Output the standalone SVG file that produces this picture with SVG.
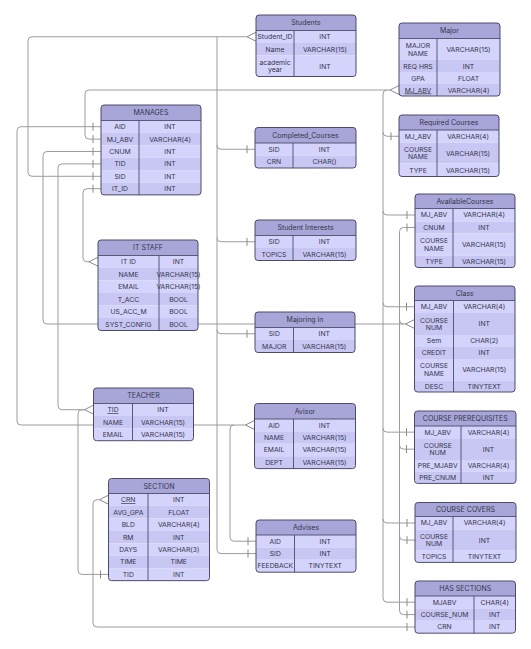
<svg xmlns="http://www.w3.org/2000/svg" xmlns:xlink="http://www.w3.org/1999/xlink" width="531" height="649" viewBox="0 0 531 649">
<style>
text{font-family:Inter,"Liberation Sans",sans-serif;font-size:6.8px;fill:#34344a;text-anchor:middle}
.th{font-size:7px}
.u{text-decoration:underline}
.hd{fill:#a8a6d8}
.r1{fill:#d4d3fc}
.r2{fill:#c8c7f3}
.bd{fill:none;stroke:#4c4b69;stroke-width:1}
.dv{fill:none;stroke:#4c4b69;stroke-width:0.9}
.ln{fill:none;stroke:#9c9c9c;stroke-width:1}
</style>
<defs>
<path id="cf" d="M-9 0L0 -4.5M-9 0L0 4.5" fill="none" stroke="#8a8a8a" stroke-width="1"/>
<path id="tk" d="M-8 -4V4" fill="none" stroke="#8a8a8a" stroke-width="1"/>
<clipPath id="k1"><rect x="256" y="15" width="100" height="61.5" rx="3"/></clipPath>
<clipPath id="k2"><rect x="399" y="23" width="101" height="73" rx="3"/></clipPath>
<clipPath id="k3"><rect x="101" y="105" width="100" height="89.9" rx="3"/></clipPath>
<clipPath id="k4"><rect x="255" y="127.5" width="101" height="40.5" rx="3"/></clipPath>
<clipPath id="k5"><rect x="255" y="220" width="101" height="40.5" rx="3"/></clipPath>
<clipPath id="k6"><rect x="399" y="115" width="100" height="61.5" rx="3"/></clipPath>
<clipPath id="k7"><rect x="415" y="194" width="100" height="73.5" rx="3"/></clipPath>
<clipPath id="k8"><rect x="98" y="240" width="100" height="90.5" rx="3"/></clipPath>
<clipPath id="k9"><rect x="414.5" y="286" width="100.5" height="106" rx="3"/></clipPath>
<clipPath id="k10"><rect x="255" y="312" width="100" height="40.5" rx="3"/></clipPath>
<clipPath id="k11"><rect x="93.5" y="388" width="100" height="52.7" rx="3"/></clipPath>
<clipPath id="k12"><rect x="254.5" y="403.5" width="101" height="65.1" rx="3"/></clipPath>
<clipPath id="k13"><rect x="256" y="520" width="100" height="52.2" rx="3"/></clipPath>
<clipPath id="k14"><rect x="414.5" y="411" width="101.5" height="72.4" rx="3"/></clipPath>
<clipPath id="k15"><rect x="415" y="502.5" width="101" height="59.9" rx="3"/></clipPath>
<clipPath id="k16"><rect x="108.5" y="478.5" width="101" height="102.15" rx="3"/></clipPath>
<clipPath id="k17"><rect x="415" y="581" width="100.5" height="52.2" rx="3"/></clipPath>
</defs>
<rect x="0" y="0" width="531" height="649" fill="#ffffff"/>

<g id="connectors">
<path class="ln" d="M247 36.75H32Q28 36.75 28 40.75V172.3Q28 176.3 32 176.3H101"/>
<path class="ln" d="M217 36.75V549.6Q217 553.6 221 553.6H256"/>
<path class="ln" d="M217 145.25Q217 149.25 221 149.25H255"/>
<path class="ln" d="M217 237.75Q217 241.75 221 241.75H255"/>
<path class="ln" d="M217 329.75Q217 333.75 221 333.75H255"/>
<path class="ln" d="M390 90H89Q85 90 85 94V135.1Q85 139.1 89 139.1H101"/>
<path class="ln" d="M387 90Q383 90 383 94V598.2Q383 602.2 387 602.2H415"/>
<path class="ln" d="M383 132.25Q383 136.25 387 136.25H399"/>
<path class="ln" d="M383 211Q383 215 387 215H415"/>
<path class="ln" d="M383 302.75Q383 306.75 387 306.75H414.5"/>
<path class="ln" d="M383 428.15Q383 432.15 387 432.15H414.5"/>
<path class="ln" d="M383 519Q383 523 387 523H415"/>
<path class="ln" d="M101 151.5H47Q43 151.5 43 155.5V320Q43 324 47 324H405.5"/>
<path class="ln" d="M101 163.9H62Q58 163.9 58 167.9V405.7Q58 409.7 62 409.7H84.5"/>
<path class="ln" d="M84.5 409.7H82Q78 409.7 78 413.7V570.4Q78 574.4 82 574.4H108.5"/>
<path class="ln" d="M101 126.7H21Q17 126.7 17 130.7V421Q17 425 21 425H245.5"/>
<path class="ln" d="M234 425Q230 425 230 429V537.2Q230 541.2 234 541.2H256"/>
<path class="ln" d="M101 188.7H87Q83 188.7 83 192.7V257.75Q83 261.75 87 261.75H89"/>
<path class="ln" d="M415 227.5H403.5Q399.5 227.5 399.5 231.5V610.6Q399.5 614.6 403.5 614.6H415"/>
<path class="ln" d="M399.5 320Q399.5 324 403.5 324"/>
<path class="ln" d="M399.5 445.15Q399.5 449.15 403.5 449.15H414.5"/>
<path class="ln" d="M399.5 536.1Q399.5 540.1 403.5 540.1H415"/>
<path class="ln" d="M99.5 499.7H97Q93 499.7 93 503.7V623Q93 627 97 627H415"/>
<use href="#cf" x="256" y="36.75"/>
<use href="#cf" x="399" y="90"/>
<use href="#cf" x="98" y="261.75"/>
<use href="#cf" x="414.5" y="324"/>
<use href="#cf" x="93.5" y="409.7"/>
<use href="#cf" x="254.5" y="425"/>
<use href="#cf" x="108.5" y="499.7"/>
<use href="#tk" x="101" y="126.7"/>
<use href="#tk" x="101" y="139.1"/>
<use href="#tk" x="101" y="151.5"/>
<use href="#tk" x="101" y="163.9"/>
<use href="#tk" x="101" y="176.3"/>
<use href="#tk" x="101" y="188.7"/>
<use href="#tk" x="255" y="149.25"/>
<use href="#tk" x="255" y="241.75"/>
<use href="#tk" x="255" y="333.75"/>
<use href="#tk" x="256" y="541.2"/>
<use href="#tk" x="256" y="553.6"/>
<use href="#tk" x="399" y="136.25"/>
<use href="#tk" x="415" y="215"/>
<use href="#tk" x="415" y="227.5"/>
<use href="#tk" x="414.5" y="306.75"/>
<use href="#tk" x="414.5" y="432.15"/>
<use href="#tk" x="414.5" y="449.15"/>
<use href="#tk" x="415" y="523"/>
<use href="#tk" x="415" y="540.1"/>
<use href="#tk" x="415" y="602.2"/>
<use href="#tk" x="415" y="614.6"/>
<use href="#tk" x="415" y="627"/>
<use href="#tk" x="108.5" y="574.4"/>
</g>

<g id="students">
<g clip-path="url(#k1)">
<rect class="hd" x="256" y="15" width="100" height="15.5"/>
<rect class="r1" x="256" y="30.5" width="100" height="12.5"/>
<rect class="r2" x="256" y="43" width="100" height="12.5"/>
<rect class="r1" x="256" y="55.5" width="100" height="21"/>
</g>
<path class="dv" d="M256 30.5H356M294 30.5V76.5"/>
<rect class="bd" x="256" y="15" width="100" height="61.5" rx="3"/>
<text class="th" x="306" y="25.3">Students</text>
<text x="275" y="39.2">Student_ID</text><text x="325" y="39.2">INT</text>
<text x="275" y="51.7">Name</text><text x="325" y="51.7">VARCHAR(15)</text>
<text x="275" y="64.5">academic</text><text x="275" y="72.3">year</text><text x="325" y="68.5">INT</text>
</g>

<g id="major">
<g clip-path="url(#k2)">
<rect class="hd" x="399" y="23" width="101" height="15.5"/>
<rect class="r1" x="399" y="38.5" width="101" height="21.5"/>
<rect class="r2" x="399" y="60" width="101" height="12"/>
<rect class="r1" x="399" y="72" width="101" height="12"/>
<rect class="r2" x="399" y="84" width="101" height="12"/>
</g>
<path class="dv" d="M399 38.5H500M437 38.5V96"/>
<rect class="bd" x="399" y="23" width="101" height="73" rx="3"/>
<text class="th" x="449.5" y="33.3">Major</text>
<text x="418" y="48">MAJOR</text><text x="418" y="55.8">NAME</text><text x="468.5" y="51.7">VARCHAR(15)</text>
<text x="418" y="68.5">REQ HRS</text><text x="468.5" y="68.5">INT</text>
<text x="418" y="80.5">GPA</text><text x="468.5" y="80.5">FLOAT</text>
<text class="u" x="418" y="92.5">MJ_ABV</text><text x="468.5" y="92.5">VARCHAR(4)</text>
</g>

<g id="manages">
<g clip-path="url(#k3)">
<rect class="hd" x="101" y="105" width="100" height="15.5"/>
<rect class="r1" x="101" y="120.5" width="100" height="12.4"/>
<rect class="r2" x="101" y="132.9" width="100" height="12.4"/>
<rect class="r1" x="101" y="145.3" width="100" height="12.4"/>
<rect class="r2" x="101" y="157.7" width="100" height="12.4"/>
<rect class="r1" x="101" y="170.1" width="100" height="12.4"/>
<rect class="r2" x="101" y="182.5" width="100" height="12.4"/>
</g>
<path class="dv" d="M101 120.5H201M139 120.5V194.9"/>
<rect class="bd" x="101" y="105" width="100" height="89.9" rx="3"/>
<text class="th" x="151" y="115.3">MANAGES</text>
<text x="120" y="129.1">AID</text><text x="170" y="129.1">INT</text>
<text x="120" y="141.5">MJ_ABV</text><text x="170" y="141.5">VARCHAR(4)</text>
<text x="120" y="153.9">CNUM</text><text x="170" y="153.9">INT</text>
<text x="120" y="166.3">TID</text><text x="170" y="166.3">INT</text>
<text x="120" y="178.7">SID</text><text x="170" y="178.7">INT</text>
<text x="120" y="191.1">IT_ID</text><text x="170" y="191.1">INT</text>
</g>

<g id="completed-courses">
<g clip-path="url(#k4)">
<rect class="hd" x="255" y="127.5" width="101" height="15.5"/>
<rect class="r1" x="255" y="143" width="101" height="12.5"/>
<rect class="r2" x="255" y="155.5" width="101" height="12.5"/>
</g>
<path class="dv" d="M255 143H356M293 143V168"/>
<rect class="bd" x="255" y="127.5" width="101" height="40.5" rx="3"/>
<text class="th" x="305.5" y="137.8">Completed_Courses</text>
<text x="274" y="151.7">SID</text><text x="324.5" y="151.7">INT</text>
<text x="274" y="164.2">CRN</text><text x="324.5" y="164.2">CHAR()</text>
</g>

<g id="student-interests">
<g clip-path="url(#k5)">
<rect class="hd" x="255" y="220" width="101" height="15.5"/>
<rect class="r1" x="255" y="235.5" width="101" height="12.5"/>
<rect class="r2" x="255" y="248" width="101" height="12.5"/>
</g>
<path class="dv" d="M255 235.5H356M293 235.5V260.5"/>
<rect class="bd" x="255" y="220" width="101" height="40.5" rx="3"/>
<text class="th" x="305.5" y="230.3">Student Interests</text>
<text x="274" y="244.2">SID</text><text x="324.5" y="244.2">INT</text>
<text x="274" y="256.7">TOPICS</text><text x="324.5" y="256.7">VARCHAR(15)</text>
</g>

<g id="required-courses">
<g clip-path="url(#k6)">
<rect class="hd" x="399" y="115" width="100" height="15"/>
<rect class="r1" x="399" y="130" width="100" height="12.5"/>
<rect class="r2" x="399" y="142.5" width="100" height="21"/>
<rect class="r1" x="399" y="163.5" width="100" height="13"/>
</g>
<path class="dv" d="M399 130H499M437 130V176.5"/>
<rect class="bd" x="399" y="115" width="100" height="61.5" rx="3"/>
<text class="th" x="449" y="125">Required Courses</text>
<text x="418" y="138.7">MJ_ABV</text><text x="468" y="138.7">VARCHAR(4)</text>
<text x="418" y="151.5">COURSE</text><text x="418" y="159.3">NAME</text><text x="468" y="155.5">VARCHAR(15)</text>
<text x="418" y="172.5">TYPE</text><text x="468" y="172.5">VARCHAR(15)</text>
</g>

<g id="available-courses">
<g clip-path="url(#k7)">
<rect class="hd" x="415" y="194" width="100" height="14.5"/>
<rect class="r1" x="415" y="208.5" width="100" height="13"/>
<rect class="r2" x="415" y="221.5" width="100" height="12"/>
<rect class="r1" x="415" y="233.5" width="100" height="22"/>
<rect class="r2" x="415" y="255.5" width="100" height="12"/>
</g>
<path class="dv" d="M415 208.5H515M453 208.5V267.5"/>
<rect class="bd" x="415" y="194" width="100" height="73.5" rx="3"/>
<text class="th" x="465" y="203.8">AvailableCourses</text>
<text x="434" y="217.4">MJ_ABV</text><text x="484" y="217.4">VARCHAR(4)</text>
<text x="434" y="229.9">CNUM</text><text x="484" y="229.9">INT</text>
<text x="434" y="243">COURSE</text><text x="434" y="250.8">NAME</text><text x="484" y="246.9">VARCHAR(15)</text>
<text x="434" y="263.9">TYPE</text><text x="484" y="263.9">VARCHAR(15)</text>
</g>

<g id="it-staff">
<g clip-path="url(#k8)">
<rect class="hd" x="98" y="240" width="100" height="15.5"/>
<rect class="r1" x="98" y="255.5" width="100" height="12.5"/>
<rect class="r2" x="98" y="268" width="100" height="12.5"/>
<rect class="r1" x="98" y="280.5" width="100" height="12.5"/>
<rect class="r2" x="98" y="293" width="100" height="12.5"/>
<rect class="r1" x="98" y="305.5" width="100" height="12.5"/>
<rect class="r2" x="98" y="318" width="100" height="12.5"/>
</g>
<path class="dv" d="M98 255.5H198M159 255.5V330.5"/>
<rect class="bd" x="98" y="240" width="100" height="90.5" rx="3"/>
<text class="th" x="148" y="250.3">IT STAFF</text>
<text x="128.5" y="264.2">IT ID</text><text x="178.5" y="264.2">INT</text>
<text x="128.5" y="276.7">NAME</text><text x="178.5" y="276.7">VARCHAR(15)</text>
<text x="128.5" y="289.2">EMAIL</text><text x="178.5" y="289.2">VARCHAR(15)</text>
<text x="128.5" y="301.7">T_ACC</text><text x="178.5" y="301.7">BOOL</text>
<text x="128.5" y="314.2">US_ACC_M</text><text x="178.5" y="314.2">BOOL</text>
<text x="128.5" y="326.7">SYST_CONFIG</text><text x="178.5" y="326.7">BOOL</text>
</g>

<g id="class">
<g clip-path="url(#k9)">
<rect class="hd" x="414.5" y="286" width="100.5" height="14.5"/>
<rect class="r1" x="414.5" y="300.5" width="100.5" height="12.5"/>
<rect class="r2" x="414.5" y="313" width="100.5" height="22"/>
<rect class="r1" x="414.5" y="335" width="100.5" height="12"/>
<rect class="r2" x="414.5" y="347" width="100.5" height="12"/>
<rect class="r1" x="414.5" y="359" width="100.5" height="21.5"/>
<rect class="r2" x="414.5" y="380.5" width="100.5" height="11.5"/>
</g>
<path class="dv" d="M414.5 300.5H515M453.5 300.5V392"/>
<rect class="bd" x="414.5" y="286" width="100.5" height="106" rx="3"/>
<text class="th" x="464.75" y="295.8">Class</text>
<text x="434" y="309.2">MJ_ABV</text><text x="484.25" y="309.2">VARCHAR(4)</text>
<text x="434" y="322.5">COURSE</text><text x="434" y="330.3">NUM</text><text x="484.25" y="326.4">INT</text>
<text x="434" y="343.4">Sem</text><text x="484.25" y="343.4">CHAR(2)</text>
<text x="434" y="355.4">CREDIT</text><text x="484.25" y="355.4">INT</text>
<text x="434" y="368.2">COURSE</text><text x="434" y="376">NAME</text><text x="484.25" y="372.1">VARCHAR(15)</text>
<text x="434" y="388.6">DESC</text><text x="484.25" y="388.6">TINYTEXT</text>
</g>

<g id="majoring-in">
<g clip-path="url(#k10)">
<rect class="hd" x="255" y="312" width="100" height="15.5"/>
<rect class="r1" x="255" y="327.5" width="100" height="12.5"/>
<rect class="r2" x="255" y="340" width="100" height="12.5"/>
</g>
<path class="dv" d="M255 327.5H355M293.5 327.5V352.5"/>
<rect class="bd" x="255" y="312" width="100" height="40.5" rx="3"/>
<text class="th" x="305" y="322.3">Majoring in</text>
<text x="274.25" y="336.2">SID</text><text x="324.25" y="336.2">INT</text>
<text x="274.25" y="348.7">MAJOR</text><text x="324.25" y="348.7">VARCHAR(15)</text>
</g>

<g id="teacher">
<g clip-path="url(#k11)">
<rect class="hd" x="93.5" y="388" width="100" height="15.5"/>
<rect class="r1" x="93.5" y="403.5" width="100" height="12.4"/>
<rect class="r2" x="93.5" y="415.9" width="100" height="12.4"/>
<rect class="r1" x="93.5" y="428.3" width="100" height="12.4"/>
</g>
<path class="dv" d="M93.5 403.5H193.5M132.5 403.5V440.7"/>
<rect class="bd" x="93.5" y="388" width="100" height="52.7" rx="3"/>
<text class="th" x="143.5" y="398.3">TEACHER</text>
<text class="u" x="113" y="412.1">TID</text><text x="163" y="412.1">INT</text>
<text x="113" y="424.5">NAME</text><text x="163" y="424.5">VARCHAR(15)</text>
<text x="113" y="436.9">EMAIL</text><text x="163" y="436.9">VARCHAR(15)</text>
</g>

<g id="avisor">
<g clip-path="url(#k12)">
<rect class="hd" x="254.5" y="403.5" width="101" height="15.5"/>
<rect class="r1" x="254.5" y="419" width="101" height="12.4"/>
<rect class="r2" x="254.5" y="431.4" width="101" height="12.4"/>
<rect class="r1" x="254.5" y="443.8" width="101" height="12.4"/>
<rect class="r2" x="254.5" y="456.2" width="101" height="12.4"/>
</g>
<path class="dv" d="M254.5 419H355.5M293.5 419V468.6"/>
<rect class="bd" x="254.5" y="403.5" width="101" height="65.1" rx="3"/>
<text class="th" x="305" y="413.8">Avisor</text>
<text x="274" y="427.6">AID</text><text x="324.5" y="427.6">INT</text>
<text x="274" y="440">NAME</text><text x="324.5" y="440">VARCHAR(15)</text>
<text x="274" y="452.4">EMAIL</text><text x="324.5" y="452.4">VARCHAR(15)</text>
<text x="274" y="464.8">DEPT</text><text x="324.5" y="464.8">VARCHAR(15)</text>
</g>

<g id="advises">
<g clip-path="url(#k13)">
<rect class="hd" x="256" y="520" width="100" height="15"/>
<rect class="r1" x="256" y="535" width="100" height="12.4"/>
<rect class="r2" x="256" y="547.4" width="100" height="12.4"/>
<rect class="r1" x="256" y="559.8" width="100" height="12.4"/>
</g>
<path class="dv" d="M256 535H356M294.5 535V572.2"/>
<rect class="bd" x="256" y="520" width="100" height="52.2" rx="3"/>
<text class="th" x="306" y="530">Advises</text>
<text x="275.25" y="543.6">AID</text><text x="325.25" y="543.6">INT</text>
<text x="275.25" y="556">SID</text><text x="325.25" y="556">INT</text>
<text x="275.25" y="568.4">FEEDBACK</text><text x="325.25" y="568.4">TINYTEXT</text>
</g>

<g id="course-prerequisites">
<g clip-path="url(#k14)">
<rect class="hd" x="414.5" y="411" width="101.5" height="15"/>
<rect class="r1" x="414.5" y="426" width="101.5" height="12.3"/>
<rect class="r2" x="414.5" y="438.3" width="101.5" height="21.7"/>
<rect class="r1" x="414.5" y="460" width="101.5" height="11.7"/>
<rect class="r2" x="414.5" y="471.7" width="101.5" height="11.7"/>
</g>
<path class="dv" d="M414.5 426H516M461 426V483.4"/>
<rect class="bd" x="414.5" y="411" width="101.5" height="72.4" rx="3"/>
<text class="th" x="465.25" y="421">COURSE PREREQUISITES</text>
<text x="437.75" y="434.6">MJ_ABV</text><text x="488.5" y="434.6">VARCHAR(4)</text>
<text x="437.75" y="447.6">COURSE</text><text x="437.75" y="455.4">NUM</text><text x="488.5" y="451.6">INT</text>
<text x="437.75" y="468.3">PRE_MJABV</text><text x="488.5" y="468.3">VARCHAR(4)</text>
<text x="437.75" y="480">PRE_CNUM</text><text x="488.5" y="480">INT</text>
</g>

<g id="course-covers">
<g clip-path="url(#k15)">
<rect class="hd" x="415" y="502.5" width="101" height="14"/>
<rect class="r1" x="415" y="516.5" width="101" height="13"/>
<rect class="r2" x="415" y="529.5" width="101" height="21.2"/>
<rect class="r1" x="415" y="550.7" width="101" height="11.7"/>
</g>
<path class="dv" d="M415 516.5H516M453 516.5V562.4"/>
<rect class="bd" x="415" y="502.5" width="101" height="59.9" rx="3"/>
<text class="th" x="465.5" y="512">COURSE COVERS</text>
<text x="434" y="525.4">MJ_ABV</text><text x="484.5" y="525.4">VARCHAR(4)</text>
<text x="434" y="538.5">COURSE</text><text x="434" y="546.3">NUM</text><text x="484.5" y="542.5">INT</text>
<text x="434" y="559">TOPICS</text><text x="484.5" y="559">TINYTEXT</text>
</g>

<g id="section">
<g clip-path="url(#k16)">
<rect class="hd" x="108.5" y="478.5" width="101" height="15"/>
<rect class="r1" x="108.5" y="493.5" width="101" height="12.45"/>
<rect class="r2" x="108.5" y="505.95" width="101" height="12.45"/>
<rect class="r1" x="108.5" y="518.4" width="101" height="12.45"/>
<rect class="r2" x="108.5" y="530.85" width="101" height="12.45"/>
<rect class="r1" x="108.5" y="543.3" width="101" height="12.45"/>
<rect class="r2" x="108.5" y="555.75" width="101" height="12.45"/>
<rect class="r1" x="108.5" y="568.2" width="101" height="12.45"/>
</g>
<path class="dv" d="M108.5 493.5H209.5M148 493.5V580.65"/>
<rect class="bd" x="108.5" y="478.5" width="101" height="102.15" rx="3"/>
<text class="th" x="159" y="488.5">SECTION</text>
<text class="u" x="128.25" y="502.1">CRN</text><text x="178.75" y="502.1">INT</text>
<text x="128.25" y="514.6">AVG_GPA</text><text x="178.75" y="514.6">FLOAT</text>
<text x="128.25" y="527">BLD</text><text x="178.75" y="527">VARCHAR(4)</text>
<text x="128.25" y="539.5">RM</text><text x="178.75" y="539.5">INT</text>
<text x="128.25" y="551.9">DAYS</text><text x="178.75" y="551.9">VARCHAR(3)</text>
<text x="128.25" y="564.4">TIME</text><text x="178.75" y="564.4">TIME</text>
<text x="128.25" y="576.8">TID</text><text x="178.75" y="576.8">INT</text>
</g>

<g id="has-sections">
<g clip-path="url(#k17)">
<rect class="hd" x="415" y="581" width="100.5" height="15"/>
<rect class="r1" x="415" y="596" width="100.5" height="12.4"/>
<rect class="r2" x="415" y="608.4" width="100.5" height="12.4"/>
<rect class="r1" x="415" y="620.8" width="100.5" height="12.4"/>
</g>
<path class="dv" d="M415 596H515.5M474 596V633.2"/>
<rect class="bd" x="415" y="581" width="100.5" height="52.2" rx="3"/>
<text class="th" x="465.25" y="591">HAS SECTIONS</text>
<text x="444.5" y="604.6">MJABV</text><text x="494.75" y="604.6">CHAR(4)</text>
<text x="444.5" y="617">COURSE_NUM</text><text x="494.75" y="617">INT</text>
<text x="444.5" y="629.4">CRN</text><text x="494.75" y="629.4">INT</text>
</g>
</svg>
